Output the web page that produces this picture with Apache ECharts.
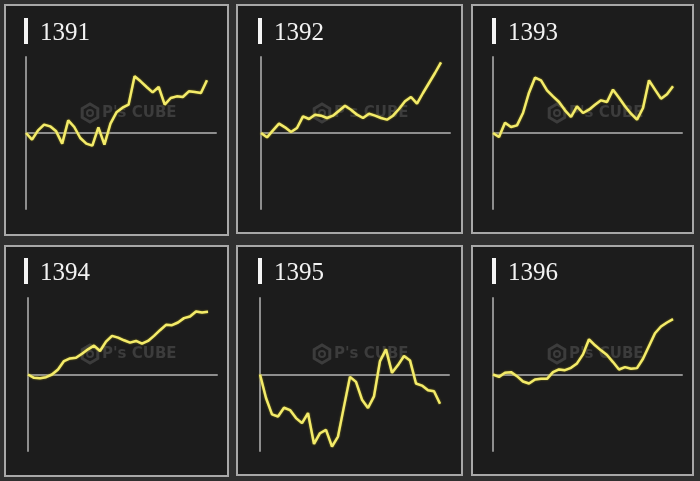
<!DOCTYPE html>
<html>
<head>
<meta charset="utf-8">
<script src="https://cdn.jsdelivr.net/npm/echarts@6/dist/echarts.min.js"></script>
<style>
  html, body { margin: 0; padding: 0; background: #2f2f2f; }
  #chart { width: 700px; height: 481px; }
</style>
</head>
<body>
<div id="chart"></div>
<script>
// Panel titles (years)
const years = ['1391', '1392', '1393', '1394', '1395', '1396'];

// Day index along each month
const days = Array.from({ length: 31 }, (_, i) => i);

// Running totals, one value per day
const s1391 = [0, -20, 8, 25, 20, 5, -32, 38, 18, -15, -32, -38, 17, -35, 28, 62, 76, 85, 170, 155, 138, 122, 138, 85, 105, 110, 108, 125, 123, 120, 158];
const s1392 = [0, -13, 8, 28, 17, 3, 15, 50, 42, 55, 52, 45, 52, 67, 82, 70, 55, 45, 58, 52, 45, 40, 52, 72, 95, 108, 88, 120, 150, 180, 212];
const s1393 = [0, -12, 31, 18, 23, 60, 121, 166, 158, 128, 110, 93, 68, 48, 80, 60, 70, 85, 98, 93, 130, 106, 80, 58, 40, 75, 158, 130, 103, 116, 140];
const s1394 = [0, -10, -11, -8, 0, 15, 40, 48, 50, 62, 75, 86, 70, 98, 115, 110, 102, 95, 100, 92, 100, 115, 132, 148, 147, 155, 168, 173, 188, 185, 187];
const s1395 = [0, -70, -119, -125, -99, -106, -130, -145, -115, -207, -175, -165, -215, -185, -95, -7, -22, -75, -100, -65, 40, 75, 5, 28, 55, 42, -27, -33, -47, -50, -87];
const s1396 = [0, -7, 5, 7, -5, -21, -27, -15, -13, -13, 7, 15, 13, 20, 33, 60, 105, 87, 72, 58, 37, 15, 22, 17, 19, 47, 85, 123, 143, 155, 165];

const seriesValues = [s1391, s1392, s1393, s1394, s1395, s1396];

// Layout: frame boxes [x, y, w, h] and plot areas [left, top, width, height]
const frames = [[5, 5, 223, 230], [237, 5, 225, 228], [472, 5, 221, 228],
                [5, 246, 223, 230], [237, 246, 225, 229], [472, 246, 221, 229]];
const plots = [[26, 57, 190, 152], [261, 57, 189, 152], [493, 57, 189, 152],
               [28, 298, 189, 153], [260, 298, 189, 153], [493, 298, 189, 153]];
const titleMarks = [[24, 18], [258, 18], [492, 18], [24, 258], [258, 258], [492, 258]];

const chart = echarts.init(document.getElementById('chart'), null, { renderer: 'canvas' });

const grid = [], xAxis = [], yAxis = [], series = [], graphic = [];

plots.forEach((p, i) => {
  grid.push({ left: p[0], top: p[1], width: p[2], height: p[3] });
  xAxis.push({
    type: 'value', gridIndex: i, min: 0, max: 31.5, z: 5,
    axisLine: { show: true, onZero: true, lineStyle: { color: '#8e8e8e', width: 2 } },
    axisTick: { show: false }, axisLabel: { show: false }, splitLine: { show: false }
  });
  yAxis.push({
    type: 'value', gridIndex: i, min: -228, max: 228, z: 5,
    axisLine: { show: true, onZero: false, lineStyle: { color: '#8e8e8e', width: 2 } },
    axisTick: { show: false }, axisLabel: { show: false }, splitLine: { show: false }
  });
  series.push({
    type: 'line', xAxisIndex: i, yAxisIndex: i, z: 6,
    data: days.map((d, k) => [d, seriesValues[i][k]]),
    symbol: 'none', smooth: false,
    lineStyle: { color: '#f3eb6a', width: 2.5, shadowColor: 'rgba(150,140,30,0.9)', shadowBlur: 2 }
  });
});

frames.forEach((f, i) => {
  // panel box
  graphic.push({
    type: 'rect', z: -10,
    shape: { x: f[0], y: f[1], width: f[2], height: f[3] },
    style: { fill: '#1c1c1c', stroke: '#a8a8a8', lineWidth: 2 }
  });
  // faint logo watermark
  const cx = f[0] + 85, cy = f[1] + 108;
  const hex = [];
  for (let k = 0; k < 6; k++) {
    const a = Math.PI / 6 + k * Math.PI / 3;
    hex.push([cx + 9 * Math.cos(a), cy + 9 * Math.sin(a)]);
  }
  graphic.push({
    type: 'polygon', z: -5, shape: { points: hex },
    style: { fill: 'none', stroke: '#3c3c3c', lineWidth: 3 }
  });
  graphic.push({
    type: 'circle', z: -5, shape: { cx: cx, cy: cy, r: 3 },
    style: { fill: 'none', stroke: '#3c3c3c', lineWidth: 2 }
  });
  graphic.push({
    type: 'text', z: -5, x: cx + 12, y: cy,
    style: { text: "P's CUBE", fill: '#3c3c3c', font: 'bold 15px "DejaVu Sans"', verticalAlign: 'middle' }
  });
});

titleMarks.forEach((t, i) => {
  graphic.push({
    type: 'rect', z: 10,
    shape: { x: t[0], y: t[1], width: 4, height: 26 },
    style: { fill: '#f4f4f4' }
  });
  graphic.push({
    type: 'text', z: 10, x: t[0] + 16, y: t[1] + 15.5,
    style: {
      text: years[i], fill: '#f2f2f2', font: '25px "Liberation Serif"',
      verticalAlign: 'middle', align: 'left'
    }
  });
});

chart.setOption({
  backgroundColor: '#2f2f2f',
  animation: false,
  grid, xAxis, yAxis, series, graphic
});
</script>
</body>
</html>
